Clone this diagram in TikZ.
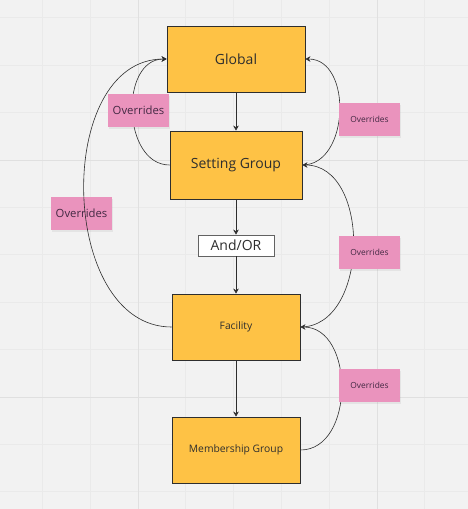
\documentclass[tikz,border=0pt]{standalone}
\usepackage{fontspec}
\setmainfont{Open Sans}
\usepackage{xcolor}
\usetikzlibrary{arrows.meta,shadows}
\definecolor{canvas}{HTML}{F2F2F2}
\definecolor{gridminor}{HTML}{EAEAEA}
\definecolor{gridmajor}{HTML}{E0E0E0}
\definecolor{boxfill}{HTML}{FEC245}
\definecolor{notefill}{HTML}{EA93BD}
\definecolor{ink}{HTML}{2E2E2E}

\begin{document}
\begin{tikzpicture}[x=1pt,y=-1pt,>={Stealth[length=5pt,width=5.5pt]},
    level/.style={draw=ink,fill=boxfill,line width=0.8pt,text=ink,inner sep=0pt,
                  minimum width=128pt,minimum height=66pt},
    note/.style={fill=notefill,text=ink!90!magenta,inner sep=0pt,
                 minimum width=61pt,minimum height=33pt,
                 drop shadow={shadow xshift=0.5pt,shadow yshift=-1.5pt,opacity=0.12}},
    link/.style={draw=ink,line width=0.6pt}]
    \fill[canvas] (0,0) rectangle (468,509);
    \useasboundingbox (0,0) rectangle (468,509);
    \foreach \x in {42.4,90.2,185.8,233.6,281.4,329.2,424.8}
    {
        \draw[gridminor,line width=0.9pt] (\x,0) -- (\x,509);
    }
    \foreach \y in {17.8,65.2,112.6,207.4,254.8,302.2,349.6,444.4,491.8}
    {
        \draw[gridminor,line width=0.9pt] (0,\y) -- (468,\y);
    }
    \draw[gridmajor,line width=1pt] (138,0) -- (138,509) (377,0) -- (377,509)
                                    (0,160) -- (468,160) (0,397) -- (468,397);

    \node[level,minimum width=138pt,font=\fontsize{14}{16}\selectfont] (global) at (236,59) {Global};
    \node[level,minimum width=132pt,minimum height=68pt,font=\fontsize{14}{16}\selectfont] (setgroup) at (236,165) {Setting Group};
    \node[draw=ink!75,fill=white,line width=0.8pt,text=ink,inner sep=0pt,minimum width=76pt,minimum height=21pt,
          font=\fontsize{14}{16}\selectfont] (andor) at (236,245.5) {And/OR};
    \node[level,font=\fontsize{10.3}{12}\selectfont] (facility) at (236,327) {Facility};
    \node[level,font=\fontsize{10.3}{12}\selectfont] (member) at (236,450) {Membership Group};

    \node[note,font=\fontsize{11.3}{13}\selectfont] (ovr3) at (81.5,213.5) {Overrides};

    \draw[->,link] (global) -- (setgroup);
    \draw[->,link] (setgroup) -- (andor);
    \draw[->,link] (andor) -- (facility);
    \draw[->,link] (facility) -- (member);
    \draw[->,link] (setgroup.west) to[out=180,in=180,looseness=1.14] (global.west);
    \draw[->,link] (facility.west) to[out=180,in=180,looseness=1.08] (global.west);
    \draw[->,link] (setgroup.east) to[out=0,in=0,looseness=1.14] (global.east);
    \draw[->,link] (facility.east) to[out=0,in=0,looseness=1.09] (setgroup.east);
    \draw[->,link] (member.east) to[out=0,in=0,looseness=1.14] (facility.east);

    \node[note,font=\fontsize{11.3}{13}\selectfont] (ovr1) at (138.5,110.5) {Overrides};
    \node[note,font=\fontsize{8.4}{10}\selectfont] (ovr2) at (369.5,119.5) {Overrides};
    \node[note,font=\fontsize{8.4}{10}\selectfont] (ovr4) at (369.5,252.5) {Overrides};
    \node[note,font=\fontsize{8.4}{10}\selectfont] (ovr5) at (369.5,385.5) {Overrides};
\end{tikzpicture}
\end{document}
